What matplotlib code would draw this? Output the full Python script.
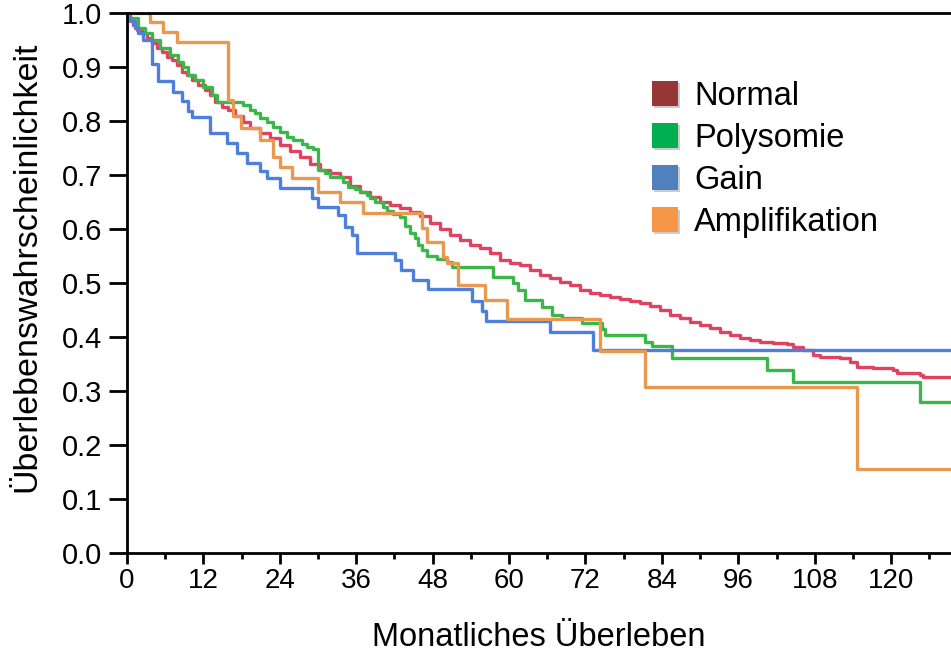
import numpy as np
import matplotlib.pyplot as plt
from matplotlib.patches import Patch
import matplotlib.patheffects as pe

plt.rcParams['font.family'] = ['Liberation Sans', 'DejaVu Sans']

# --- Kaplan-Meier Stufen (Monate, Überlebenswahrscheinlichkeit) ---
normal_t = [0, 0.2, 0.9, 1.6, 2.4, 3.1, 3.9, 4.7, 5.5, 6.3, 7.1, 7.9, 8.6, 9.4, 10.2,
            11.1, 12.2, 13.0, 13.8, 14.9, 15.9, 17.0, 18.2, 19.3, 20.9, 22.4, 24.0,
            25.6, 27.2, 28.7, 30.3, 31.9, 33.4, 35.0, 36.6, 38.1, 39.7, 41.3, 42.9,
            44.4, 46.0, 47.6, 49.1, 50.7, 52.3, 53.8, 55.4, 57.0, 58.6, 60.1, 61.7,
            63.3, 64.8, 66.4, 68.0, 69.5, 71.1, 72.7, 74.3, 75.8, 77.4, 79.0, 80.5,
            82.1, 83.7, 85.3, 86.8, 88.4, 90.0, 91.5, 93.1, 94.7, 96.2, 97.8, 99.4,
            101.4, 103.6, 104.6, 106.1, 107.7, 108.8, 111.9, 113.5, 114.6, 117.1,
            120.3, 120.9, 124.5, 125.0, 130]
normal_s = [1.0, 0.987, 0.978, 0.968, 0.963, 0.954, 0.944, 0.935, 0.928, 0.919, 0.913,
            0.904, 0.891, 0.885, 0.876, 0.867, 0.857, 0.848, 0.835, 0.826, 0.820,
            0.809, 0.798, 0.787, 0.778, 0.769, 0.756, 0.744, 0.733, 0.720, 0.709,
            0.704, 0.696, 0.680, 0.669, 0.659, 0.650, 0.644, 0.639, 0.631, 0.624,
            0.611, 0.600, 0.589, 0.580, 0.570, 0.565, 0.556, 0.543, 0.537, 0.533,
            0.524, 0.515, 0.509, 0.502, 0.496, 0.487, 0.481, 0.478, 0.474, 0.470,
            0.467, 0.463, 0.457, 0.450, 0.441, 0.435, 0.428, 0.422, 0.417, 0.409,
            0.404, 0.398, 0.394, 0.391, 0.389, 0.387, 0.381, 0.376, 0.367, 0.363,
            0.361, 0.354, 0.344, 0.343, 0.339, 0.333, 0.330, 0.326, 0.326]

poly_t = [0, 0.5, 1.7, 2.8, 3.9, 5.2, 6.8, 8.0, 8.8, 9.6, 10.7, 11.9, 13.3, 14.1,
          18.2, 19.3, 20.1, 20.9, 22.0, 22.9, 24.0, 25.1, 26.1, 27.5, 28.3, 29.2,
          30.0, 31.1, 31.9, 33.9, 34.7, 35.8, 36.6, 37.7, 38.1, 38.9, 40.2, 40.8,
          41.8, 42.9, 43.6, 44.4, 45.2, 45.7, 46.3, 47.1, 48.7, 50.2, 51.0, 57.5,
          60.6, 61.4, 62.5, 65.1, 66.7, 68.3, 71.4, 74.6, 75.0, 81.3, 82.4, 85.6,
          100.5, 104.6, 124.5, 130]
poly_s = [1.0, 0.991, 0.972, 0.963, 0.950, 0.935, 0.922, 0.909, 0.900, 0.885, 0.876,
          0.863, 0.848, 0.835, 0.830, 0.820, 0.815, 0.806, 0.798, 0.789, 0.780,
          0.770, 0.765, 0.757, 0.752, 0.748, 0.709, 0.704, 0.696, 0.687, 0.678,
          0.674, 0.669, 0.663, 0.657, 0.650, 0.641, 0.633, 0.628, 0.622, 0.606,
          0.593, 0.583, 0.570, 0.561, 0.550, 0.544, 0.539, 0.530, 0.511, 0.500,
          0.487, 0.469, 0.456, 0.441, 0.435, 0.426, 0.415, 0.404, 0.391, 0.383,
          0.361, 0.339, 0.317, 0.280, 0.280]

gain_t = [0, 0.5, 1.3, 1.7, 2.5, 3.9, 4.9, 7.2, 8.6, 9.6, 10.2, 13.0, 15.7, 17.3,
          18.8, 20.9, 22.0, 24.0, 29.0, 30.0, 33.1, 34.2, 35.3, 36.1, 42.1, 43.0,
          44.9, 47.3, 54.2, 55.7, 56.4, 66.4, 73.2, 130]
gain_s = [1.0, 0.985, 0.972, 0.963, 0.950, 0.905, 0.874, 0.854, 0.837, 0.818, 0.807,
          0.778, 0.759, 0.741, 0.722, 0.707, 0.694, 0.676, 0.657, 0.641, 0.626,
          0.604, 0.589, 0.556, 0.543, 0.524, 0.506, 0.489, 0.467, 0.448, 0.430,
          0.409, 0.376, 0.376]

ampl_t = [0, 3.6, 5.7, 7.9, 15.9, 16.6, 17.9, 20.9, 22.9, 24.0, 25.9, 30.0, 33.4,
          37.0, 46.3, 47.1, 49.6, 50.2, 52.0, 56.2, 59.6, 74.3, 81.3, 114.6, 130]
ampl_s = [1.0, 0.983, 0.965, 0.946, 0.839, 0.810, 0.787, 0.765, 0.733, 0.715, 0.694,
          0.669, 0.650, 0.630, 0.602, 0.576, 0.548, 0.537, 0.496, 0.469, 0.433,
          0.374, 0.307, 0.156, 0.156]

labels = ['Normal', 'Polysomie', 'Gain', 'Amplifikation']
line_colors = ['#e0435f', '#3cb54a', '#4f7fdc', '#e8994f']
legend_colors = ['#953735', '#00b050', '#4f81bd', '#f79646']

fig = plt.figure(figsize=(9.51, 6.57), dpi=100)
ax = fig.add_axes([0.1335, 0.158, 0.8665, 0.822])

curves = [(normal_t, normal_s), (poly_t, poly_s), (gain_t, gain_s), (ampl_t, ampl_s)]
for (t, s), c in zip(curves, line_colors):
    ax.step(t, s, where='post', color=c, lw=2.4)

ax.set_xlim(0, 129.4)
ax.set_ylim(0, 1.0)
ax.set_xticks(np.arange(0, 121, 12))
ax.set_xticks(np.arange(6, 130, 12), minor=True)
ax.set_yticks(np.arange(0, 1.01, 0.1))
ax.set_yticklabels([f'{v:.1f}' for v in np.arange(0, 1.01, 0.1)])
ax.tick_params(axis='both', which='major', width=2)
ax.tick_params(axis='y', which='major', length=13, pad=5, labelsize=21)
ax.tick_params(axis='x', which='major', length=8, pad=3, labelsize=20)
ax.tick_params(axis='x', which='minor', length=4.5, width=2)
ax.spines['right'].set_visible(False)
for sp in ['left', 'bottom', 'top']:
    ax.spines[sp].set_linewidth(2)

ax.set_xlabel('Monatliches Überleben', fontsize=23.5, va='top')
ax.xaxis.set_label_coords(0.5, -0.127)
ax.set_ylabel('Überlebenswahrscheinlichkeit', fontsize=24.5, va='center')
ax.yaxis.set_label_coords(-0.122, 0.531)

shadow = [pe.withSimplePatchShadow(offset=(1.5, -1.5), shadow_rgbFace='gray', alpha=0.4), pe.Normal()]
handles = [Patch(facecolor=c, edgecolor='none', path_effects=shadow) for c in legend_colors]
ax.legend(handles, labels, loc='upper left', bbox_to_anchor=(0.686, 0.877),
          bbox_transform=fig.transFigure, frameon=False, fontsize=23.5,
          handlelength=0.78, handleheight=0.78, handletextpad=0.5,
          labelspacing=0.34, borderpad=0, borderaxespad=0)

plt.savefig('out.png', dpi=100)
